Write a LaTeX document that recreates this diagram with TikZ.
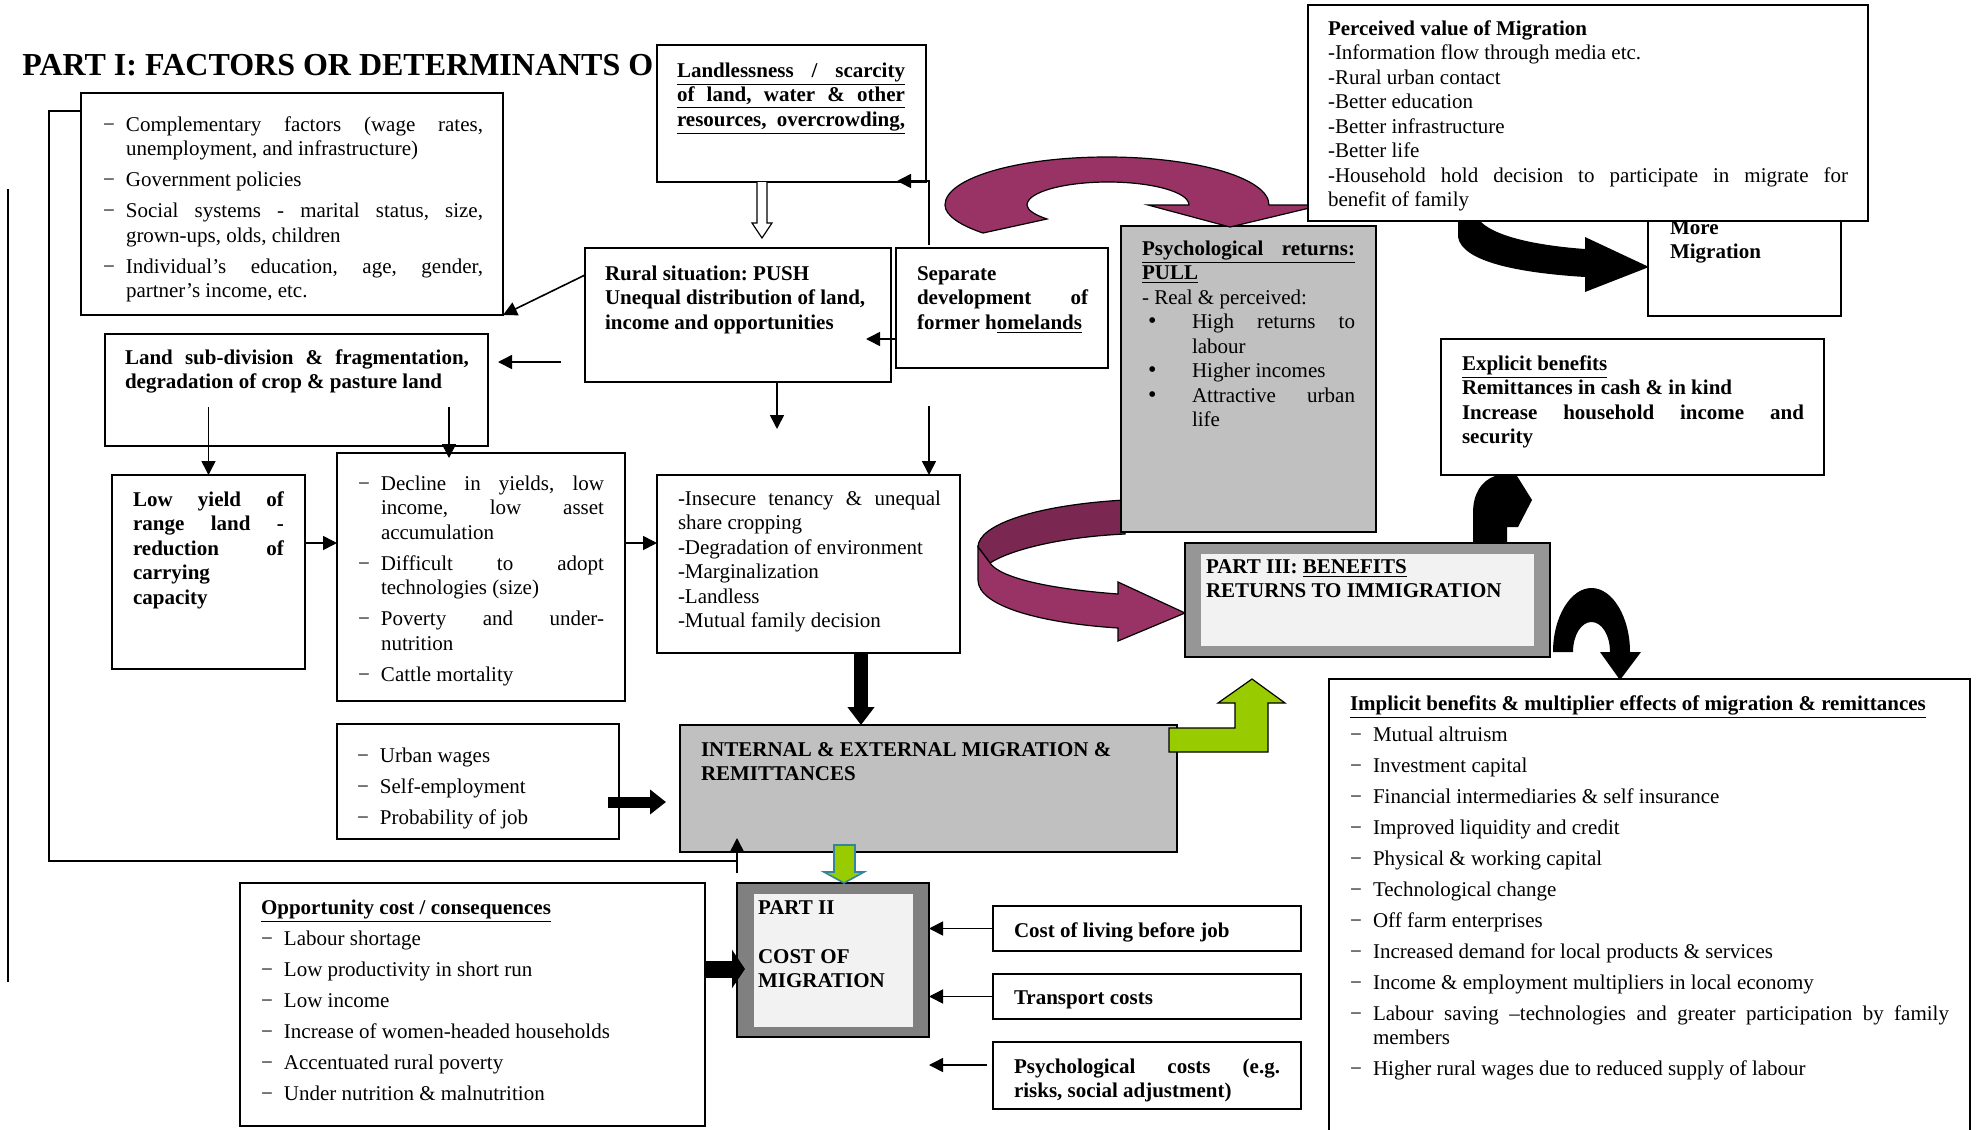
\documentclass[tikz,border=0pt]{standalone}
\usepackage{fontspec}
\setmainfont{Liberation Serif}
\usetikzlibrary{arrows.meta}
\definecolor{plum}{RGB}{153,51,102}
\definecolor{plumdark}{RGB}{122,40,82}
\definecolor{lgreen}{RGB}{153,204,0}
\definecolor{tealline}{RGB}{49,133,156}
\definecolor{gryA}{RGB}{192,192,192}
\definecolor{gryB}{RGB}{128,128,128}
\definecolor{gryC}{RGB}{150,150,150}
\definecolor{gryD}{RGB}{242,242,242}
\newcommand\Dfirst{\hangindent=11.5pt\hangafter=1\makebox[11.5pt][l]{−}}
\newcommand\Dnext{\par\Dfirst}
\newcommand\Jline[1]{\makebox[\linewidth][s]{#1}}
\newcommand\ULine[1]{\underline{\makebox[\linewidth][s]{#1}}}
\newcommand\Bitem{\par\hangindent=25pt\hangafter=1\makebox[25pt][l]{\hspace{3pt}\large•}}
\tikzset{
  bx/.style={draw, line width=0.9pt, fill=white, inner sep=0pt, outer sep=0pt, anchor=north west},
  tx/.style={anchor=base west, inner sep=0pt, outer sep=0pt, font=\fontsize{10.5}{12.25}\selectfont,
     execute at begin node={\frenchspacing\spaceskip=0.25em plus 0.6em minus 0.08em\relax\rightskip=0pt\relax\leftskip=0pt\relax\tolerance=10000\hbadness=10000\hyphenpenalty=10000\parskip=0pt}},
  txb/.style={tx, font=\fontsize{10.5}{12.25}\selectfont\bfseries},
  lst/.style={execute at begin node={\parskip=3.25pt}},
  arr/.style={line width=0.8pt, -{Triangle[length=7pt,width=7pt]}},
}
\begin{document}
\begin{tikzpicture}[x=0.5pt, y=-0.5pt]
\fill[white] (0,0) rectangle (1977,1130);
\useasboundingbox (0,0) rectangle (1977,1130);

% title
\node[anchor=base west, inner sep=0pt, font=\fontsize{16}{19}\selectfont\bfseries] (title) at (22,75) {PART I: FACTORS OR DETERMINANTS O};

% left lines
\coordinate (lineTop) at (8,189);
\coordinate (lineBot) at (8,982);
\draw[line width=1pt] (lineTop) -- (lineBot);

% boxes
\node[bx, minimum width=211pt, minimum height=111pt] (fac) at (81,93) {};
\node[bx, minimum width=134.5pt, minimum height=68.5pt] (landl) at (657,45) {};
\node[bx, minimum width=153pt, minimum height=67pt] (rural) at (585,248) {};
\node[bx, minimum width=106pt, minimum height=60pt] (sep) at (896,248) {};
\node[bx, minimum width=191.5pt, minimum height=56pt] (landsub) at (105,334) {};
\node[bx, minimum width=96.5pt, minimum height=97pt] (lowy) at (112,475) {};
\node[bx, minimum width=144pt, minimum height=124pt] (decl) at (337,453) {};
\node[bx, minimum width=151.5pt, minimum height=89pt] (insec) at (657,475) {};
\node[bx, fill=gryA, minimum width=248.5pt, minimum height=63.5pt] (intern) at (680,725) {};
\node[bx, minimum width=141pt, minimum height=57.5pt] (urban) at (337,724) {};
\node[bx, minimum width=232.5pt, minimum height=121.5pt] (opp) at (240,883) {};
\node[bx, fill=gryB, minimum width=96pt, minimum height=77pt] (p2) at (737,883) {};
\node[anchor=north west, fill=gryD, inner sep=0pt, minimum width=79.5pt, minimum height=66.5pt] (p2in) at (754,894) {};
\node[bx, minimum width=154pt, minimum height=22.5pt] (cost1) at (993,906) {};
\node[bx, minimum width=154pt, minimum height=22.5pt] (cost2) at (993,974) {};
\node[bx, minimum width=154pt, minimum height=33.5pt] (cost3) at (993,1042) {};
\node[bx, minimum width=320.5pt, minimum height=230pt] (impl) at (1329,679) {};
\node[bx, minimum width=191.5pt, minimum height=68pt] (expl) at (1441,339) {};

% lower magenta arrow
\draw[fill=plumdark, line width=0.6pt] (1125,500) .. controls (1035,505) and (978,525) .. (978,547) -- (990,563) .. controls (1010,550) and (1060,537) .. (1125,534) -- cycle;
\draw[fill=plum, line width=0.6pt] (978,547) -- (978,580) .. controls (978,606) and (1040,623) .. (1118,628) -- (1118,641) -- (1185,613) -- (1118,582) -- (1118,594) .. controls (1050,589) and (1000,578) .. (990,563) -- cycle;

\node[bx, fill=gryA, minimum width=127.5pt, minimum height=153pt] (pull) at (1121,226) {};

% black curved arrows to explicit / implicit
\fill (1473,545) -- (1473,513) .. controls (1473,494) and (1481,481) .. (1495,476) -- (1517,476) -- (1532,500) -- (1518,527) -- (1507,527) -- (1507,545) -- cycle;
\fill (1553,652) .. controls (1553,617) and (1570.5,588) .. (1591.5,588) .. controls (1612.5,588) and (1630,617) .. (1630,652) -- (1641,652) -- (1620,680) -- (1600,652) -- (1610,652) .. controls (1610,635) and (1601.7,622) .. (1591.5,622) .. controls (1581.3,622) and (1573,635) .. (1573,652) -- cycle;

\node[bx, fill=gryC, minimum width=182.5pt, minimum height=57pt] (p3) at (1185,543) {};
\node[anchor=north west, fill=gryD, inner sep=0pt, minimum width=166.5pt, minimum height=46pt] (p3in) at (1201,554) {};

% more migration box (partly hidden)
\node[bx, minimum width=96.5pt, minimum height=60.5pt] (more) at (1648,195) {};
\node[txb, text width=80pt] (tMore) at (1670,234) {More\\ Migration};
\fill (1458,215) -- (1458,237) .. controls (1462,262) and (1520,273) .. (1585,277) -- (1585,292) -- (1649,267) -- (1585,237) -- (1585,249) .. controls (1530,245) and (1484,234) .. (1476,215) -- cycle;

% upper magenta arrow
\draw[fill=plum, line width=0.6pt] (983,233) .. controls (962,226) and (945,216) .. (945,205) .. controls (945,178) and (1018,157) .. (1107,157) .. controls (1196,157) and (1269,178) .. (1269,205) -- (1322,205) -- (1230,227) -- (1148,205) -- (1189,205) .. controls (1189,192) and (1152,182) .. (1108,182) .. controls (1064,182) and (1027,192) .. (1027,205) .. controls (1027,210) and (1035,215) .. (1047,219) -- cycle;

\node[bx, minimum width=280pt, minimum height=108pt] (perc) at (1308,5) {};

% thin connectors
\draw[arr] ([yshift=-13.5pt]rural.north west) -- (fac.south east);
\coordinate (c2a) at (561,362); \coordinate (c2b) at (498,362);
\draw[arr] (c2a) -- (c2b);
\coordinate (c3b) at (866,339);
\draw[arr] (sep.west |- c3b) -- (c3b);
\coordinate (c4a) at (929,245); \coordinate (c4b) at (897,181);
\draw[arr] (c4a) |- (c4b);
\coordinate (c5b) at (777,429);
\draw[arr] (c5b |- rural.south) -- (c5b);
\coordinate (c6a) at (929,406);
\draw[arr] (c6a) -- (c6a |- insec.north);
\coordinate (c7a) at (208.5,407);
\draw[arr] (c7a) -- (lowy.north);
\coordinate (c8a) at (449,407); \coordinate (c8b) at (449,458);
\draw[arr] (c8a) -- (c8b);
\coordinate (c9) at (0,543);
\draw[arr] (lowy.east |- c9) -- (decl.west |- c9);
\draw[arr] (decl.east |- c9) -- (insec.west |- c9);
\coordinate (fbA) at (49,111); \coordinate (fbB) at (49,861); \coordinate (fbC) at (737,861);
\coordinate (fbD) at (737,873); \coordinate (fbE) at (737,838);
\draw[line width=0.8pt] (fac.west |- fbA) -- (fbA) -- (fbB) -- (fbC);
\draw[arr] (fbD) -- (fbE);
\draw[arr] (cost1.west) -- (p2.east |- cost1.west);
\draw[arr] (cost2.west) -- (p2.east |- cost2.west);
\coordinate (c12) at (987,1065);
\draw[arr] (c12) -- (p2.east |- c12);

% hollow arrow
\draw[fill=white, line width=0.6pt] (757,182) -- (757,223) -- (752,223) -- (762,238) -- (772,223) -- (767,223) -- (767,182);

% thick arrows
\coordinate (c14) at (861,0);
\draw[line width=7pt, -{Triangle[length=9pt,width=13pt]}] (c14 |- insec.south) -- (c14 |- intern.north);
\coordinate (c15a) at (608,802); \coordinate (c15b) at (666,802);
\draw[line width=5.5pt, -{Triangle[length=8pt,width=12pt]}] (c15a) -- (c15b);
\coordinate (c16) at (745,969);
\draw[line width=8.5pt, -{Triangle[length=6.5pt,width=19pt]}] (opp.east |- c16) -- (c16);

% green arrows
\draw[fill=lgreen, line width=0.6pt] (1169,728) -- (1235,728) -- (1235,703) -- (1218,703) -- (1252,679) -- (1285,703) -- (1268,703) -- (1268,752) -- (1169,752) -- cycle;
\draw[fill=lgreen, draw=tealline, line width=0.8pt] (834,845) -- (855,845) -- (855,872) -- (864,872) -- (844,883) -- (824,872) -- (834,872) -- cycle;

% texts
\node[tx, lst, text width=190pt] (tFac) at (103,131) {\Dfirst Complementary factors (wage rates,\linebreak unemployment, and infrastructure)\Dnext Government policies\Dnext Social systems - marital status, size,\linebreak grown-ups, olds, children\Dnext Individual’s education, age, gender,\linebreak partner’s income, etc.\par};
\node[txb, text width=114pt] (tLand) at (677,77) {\ULine{Landlessness / scarcity}\\ \ULine{of land, water \& other}\\ \ULine{resources, overcrowding,}};
\node[txb, text width=140pt] (tRural) at (605,280) {Rural situation: PUSH\\ Unequal distribution of land,\\ income and opportunities};
\node[txb, text width=85.5pt] (tSep) at (917,280) {Separate\\ \Jline{development of}\\ former h\underline{omelands}};
\node[txb, text width=172pt] (tLandsub) at (125,364) {\Jline{Land sub-division \& fragmentation,}\\ degradation of crop \& pasture land};
\node[txb, text width=75.5pt] (tLowy) at (133,506) {\Jline{Low yield of}\\ \Jline{range land -}\\ \Jline{reduction of}\\ carrying\\ capacity};
\node[tx, lst, text width=123pt] (tDecl) at (358,490) {\Dfirst Decline in yields, low\linebreak income, low asset\linebreak accumulation\Dnext Difficult to adopt\linebreak technologies (size)\Dnext Poverty and under-\linebreak nutrition\Dnext Cattle mortality\par};
\node[tx, text width=131.5pt] (tInsec) at (678,505) {-Insecure tenancy \& unequal\linebreak share cropping\par -Degradation of environment\par -Marginalization\par -Landless\par -Mutual family decision};
\node[txb, text width=230pt] (tIntern) at (701,756) {INTERNAL \& EXTERNAL MIGRATION \&\\ REMITTANCES};
\node[tx, lst, text width=120pt] (tUrban) at (357,762) {\Dfirst Urban wages\Dnext Self-employment\Dnext Probability of job\par};
\node[tx, lst, text width=222pt] (tOpp) at (261,914) {\textbf{\underline{Opportunity cost / consequences}}\Dnext Labour shortage\Dnext Low productivity in short run\Dnext Low income\Dnext Increase of women-headed households\Dnext Accentuated rural poverty\Dnext Under nutrition \& malnutrition\par};
\node[txb, text width=75pt] (tP2) at (758,914) {PART II\\[12.25pt]COST OF\\ MIGRATION};
\node[txb] (tCost1) at (1014,937) {Cost of living before job};
\node[txb] (tCost2) at (1014,1004) {Transport costs};
\node[txb, text width=133pt] (tCost3) at (1014,1073) {\Jline{Psychological costs (e.g.}\\ risks, social adjustment)};
\node[tx, lst, text width=299.5pt] (tImpl) at (1350,710) {\textbf{\underline{Implicit benefits \& multiplier effects of migration \& remittances}}\Dnext Mutual altruism\Dnext Investment capital\Dnext Financial intermediaries \& self insurance\Dnext Improved liquidity and credit\Dnext Physical \& working capital\Dnext Technological change\Dnext Off farm enterprises\Dnext Increased demand for local products \& services\Dnext Income \& employment multipliers in local economy\Dnext Labour saving –technologies and greater participation by family\linebreak members\Dnext Higher rural wages due to reduced supply of labour\par};
\node[txb, text width=160pt] (tP3) at (1206,573) {PART III: \underline{BENEFITS}\\ RETURNS TO IMMIGRATION};
\node[tx, text width=106.5pt] (tPull) at (1142,255) {\textbf{\ULine{Psychological returns:}}\\ \textbf{\underline{PULL}}\\ - Real \& perceived:\Bitem High returns to\linebreak labour\Bitem Higher incomes\Bitem Attractive urban\linebreak life\par};
\node[tx, text width=260pt] (tPerc) at (1328,35) {\textbf{Perceived value of Migration}\\ -Information flow through media etc.\\ -Rural urban contact\\ -Better education\\ -Better infrastructure\\ -Better life\\ -Household hold decision to participate in migrate for\linebreak benefit of family\par};
\node[txb, text width=171pt] (tExpl) at (1462,370) {\underline{Explicit benefits}\\ Remittances in cash \& in kind\\ Increase household income and\linebreak security\par};
\end{tikzpicture}
\end{document}
